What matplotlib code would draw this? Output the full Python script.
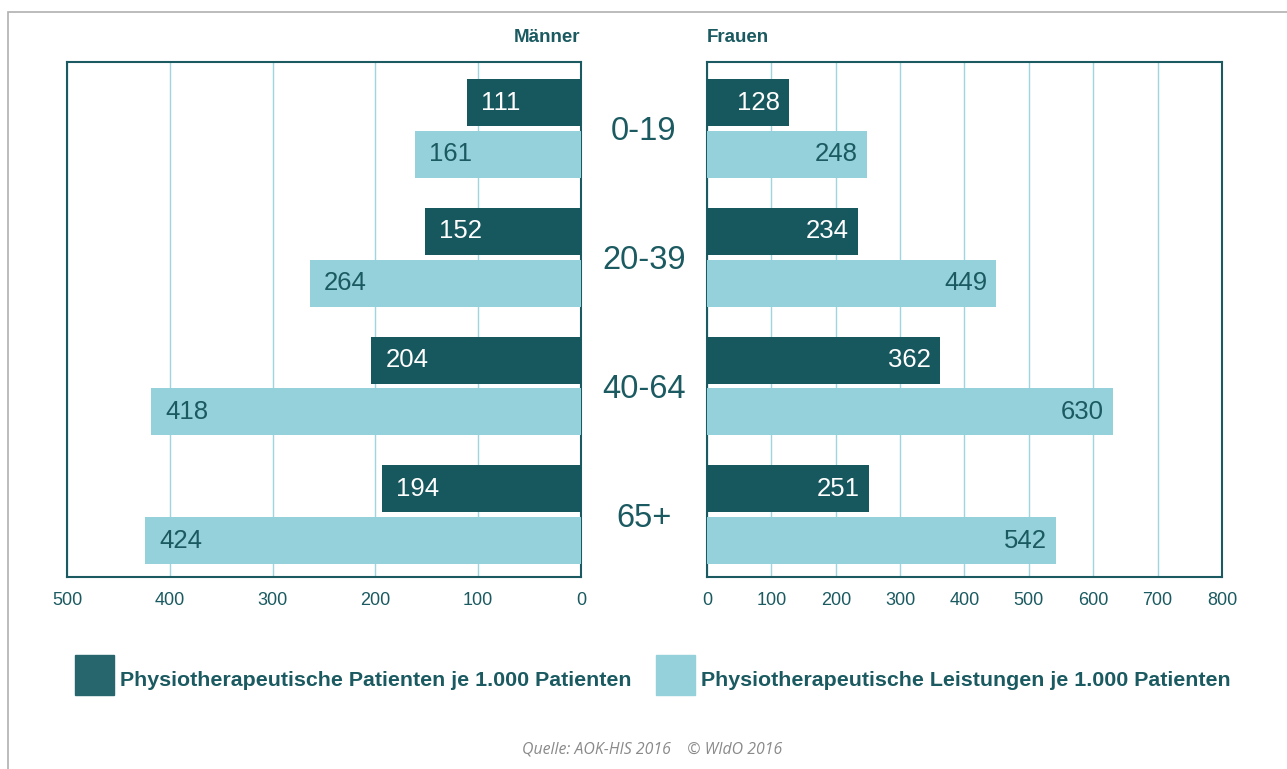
import numpy as np
import matplotlib.pyplot as plt
from matplotlib.patches import Rectangle

plt.rcParams['font.family'] = ['Liberation Sans', 'DejaVu Sans']

# Daten
altersgruppen = ['0-19', '20-39', '40-64', '65+']
maenner_patienten = [111, 152, 204, 194]
maenner_leistungen = [161, 264, 418, 424]
frauen_patienten = [128, 234, 362, 251]
frauen_leistungen = [248, 449, 630, 542]
ticks_maenner = [500, 400, 300, 200, 100, 0]
ticks_frauen = [0, 100, 200, 300, 400, 500, 600, 700, 800]

DUNKEL = '#17575e'
HELL = '#95d1da'
TEXT = '#1a5a60'
GRID = '#9fd6de'

W, H = 1287, 769
fig = plt.figure(figsize=(W / 100, H / 100), dpi=100)

# grauer Rahmen
fig.patches.append(Rectangle((8 / W, -0.1), 1.2, 1 - 12 / H + 0.1, transform=fig.transFigure,
                             fill=False, edgecolor='#b0b0b0', lw=1.2))

def px_axes(x0, x1, y0, y1):
    return fig.add_axes([x0 / W, 1 - y1 / H, (x1 - x0) / W, (y1 - y0) / H])

ax_m = px_axes(67, 581, 62, 577)
ax_f = px_axes(707, 1222, 62, 577)

y = np.arange(len(altersgruppen))
h = 0.365
off_d, off_l = -0.185, 0.218

for ax, pat, leis, ticks, xmax, links in [
        (ax_m, maenner_patienten, maenner_leistungen, ticks_maenner, 500, True),
        (ax_f, frauen_patienten, frauen_leistungen, ticks_frauen, 800, False)]:
    ax.barh(y + off_d, pat, height=h, color=DUNKEL, zorder=3)
    ax.barh(y + off_l, leis, height=h, color=HELL, zorder=3)
    ax.set_ylim(3.5, -0.5)
    if links:
        ax.set_xlim(xmax, 0)
    else:
        ax.set_xlim(0, xmax)
    ax.set_xticks(ticks)
    ax.set_xticklabels([str(t) for t in ticks])
    ax.set_yticks([])
    ax.tick_params(axis='x', length=0, pad=11, labelsize=13, labelcolor=TEXT)
    ax.grid(axis='x', color=GRID, lw=1, zorder=0)
    for s in ax.spines.values():
        s.set_color(TEXT)
        s.set_linewidth(1.5)
    pad = 14 if links else 9
    for i in range(len(y)):
        for val, yy, col in [(pat[i], y[i] + off_d, 'white'), (leis[i], y[i] + off_l, TEXT)]:
            if links:
                ax.annotate(str(val), (val, yy), xytext=(pad, 0), textcoords='offset pixels',
                            ha='left', va='center', fontsize=18.5, color=col, zorder=4)
            else:
                ax.annotate(str(val), (val, yy), xytext=(-pad, 0), textcoords='offset pixels',
                            ha='right', va='center', fontsize=18.5, color=col, zorder=4)

# Altersgruppen in der Mitte
for i, g in enumerate(altersgruppen):
    yc = 62 + 128.75 * i + 70
    fig.text(644 / W, 1 - yc / H, g, ha='center', va='center', fontsize=23.5, color=TEXT)

fig.text(580 / W, 1 - 38 / H, 'Männer', ha='right', va='center', fontsize=13.5,
         fontweight='bold', color=TEXT)
fig.text(707 / W, 1 - 38 / H, 'Frauen', ha='left', va='center', fontsize=13.5,
         fontweight='bold', color=TEXT)

# Legende
for x0, col, label in [(75, '#28666e', 'Physiotherapeutische Patienten je 1.000 Patienten'),
                       (656, HELL, 'Physiotherapeutische Leistungen je 1.000 Patienten')]:
    fig.patches.append(Rectangle((x0 / W, 1 - 695 / H), 39 / W, 40 / H,
                                 transform=fig.transFigure, color=col))
    fig.text((x0 + 45) / W, 1 - 680 / H, label, ha='left', va='center', fontsize=15.4,
             fontweight='bold', color=TEXT)

fig.text(652 / W, 1 - 749 / H, 'Quelle: AOK-HIS 2016    © WIdO 2016', ha='center', va='center',
         fontsize=11.4, style='italic', color='#8a8a8a', family=['Open Sans', 'DejaVu Sans'])

fig.savefig('out.png', dpi=100)
